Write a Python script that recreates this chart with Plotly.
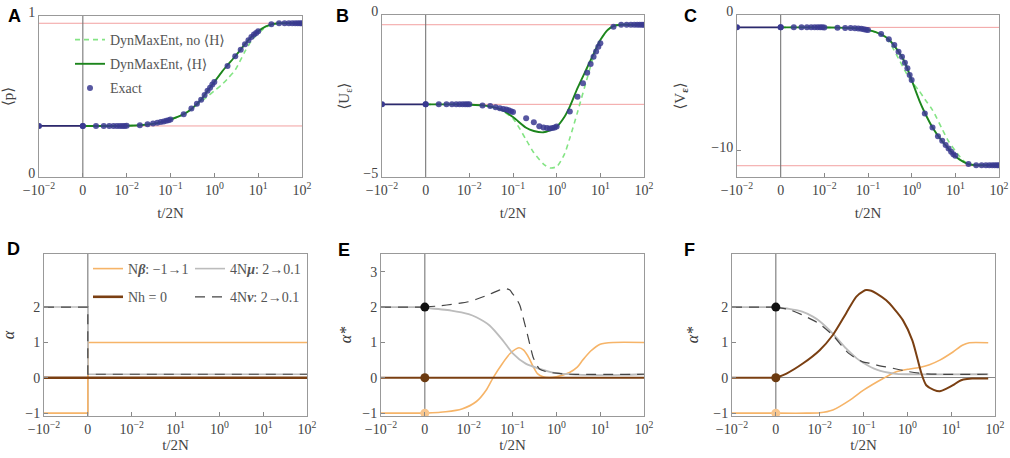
import plotly.graph_objects as go

W, H = 1010, 458

# ---- time axis (log); the "0" tick sits at t = 1e-3, the pre-change segment is left of it
X_NEG = 1e-4      # position labelled "-10^-2"
X_ZERO = 1e-3     # position labelled "0"
X_MAX = 1e2

x_tickvals = [1e-4, 1e-3, 1e-2, 1e-1, 1e0, 1e1, 1e2]
x_ticktext = ["−10<sup>−2</sup>", "0", "10<sup>−2</sup>", "10<sup>−1</sup>",
              "10<sup>0</sup>", "10<sup>1</sup>", "10<sup>2</sup>"]
x_ticktext_D = ["−10<sup>−2</sup>", "0", "10<sup>−2</sup>", "10<sup>1</sup>",
                "10<sup>0</sup>", "10<sup>1</sup>", "10<sup>2</sup>"]

# ---- exact solution (dots)
t_exact = [0.001, 0.002, 0.003, 0.004, 0.005, 0.006, 0.007, 0.008, 0.009,
           0.01, 0.02, 0.03, 0.04, 0.05, 0.06, 0.07, 0.08, 0.09,
           0.1, 0.2, 0.3, 0.4, 0.5, 0.6, 0.7, 0.8, 0.9,
           1, 2, 3, 4, 5, 6, 7, 8, 9,
           10, 20, 30, 40, 50, 60, 70, 80, 90, 100]
p_exact = [0.317, 0.317, 0.317, 0.317, 0.317, 0.317, 0.317, 0.317, 0.317,
           0.318, 0.322, 0.327, 0.332, 0.337, 0.341, 0.345, 0.349, 0.353,
           0.357, 0.39, 0.425, 0.455, 0.48, 0.51, 0.535, 0.555, 0.575,
           0.59, 0.69, 0.75, 0.79, 0.825, 0.85, 0.87, 0.885, 0.895,
           0.905, 0.948, 0.955, 0.955, 0.955, 0.955, 0.955, 0.955, 0.955, 0.955]
U_exact = [-2.757, -2.757, -2.757, -2.757, -2.757, -2.757, -2.757, -2.757, -2.757,
           -2.757, -2.79, -2.81, -2.85, -2.88, -2.90, -2.92, -2.94, -2.97,
           -2.99, -3.19, -3.31, -3.43, -3.47, -3.49, -3.50, -3.49, -3.47,
           -3.44, -2.98, -2.52, -2.11, -1.78, -1.51, -1.29, -1.13, -0.98,
           -0.87, -0.36, -0.30, -0.30, -0.30, -0.30, -0.30, -0.30, -0.30, -0.30]
V_exact = [-0.91, -0.91, -0.91, -0.91, -0.91, -0.91, -0.91, -0.91, -0.91,
           -0.92, -0.93, -0.95, -0.96, -0.98, -1.0, -1.02, -1.05, -1.08,
           -1.1, -1.40, -1.79, -2.21, -2.70, -3.07, -3.51, -3.93, -4.42,
           -4.79, -7.25, -8.28, -8.92, -9.26, -9.58, -9.83, -10.07, -10.25,
           -10.37, -10.98, -11.06, -11.06, -11.06, -11.06, -11.06, -11.06, -11.06, -11.06]

# ---- DynMaxEnt curves
t_curve = [0.001, 0.002, 0.005, 0.01, 0.02, 0.05, 0.1, 0.2, 0.3, 0.5, 0.7, 1,
           1.5, 2, 3, 5, 7, 10, 15, 20, 30, 50, 100]
p_H = [0.317, 0.317, 0.317, 0.318, 0.321, 0.335, 0.357, 0.39, 0.423, 0.48, 0.535, 0.59,
       0.655, 0.695, 0.75, 0.825, 0.87, 0.905, 0.935, 0.948, 0.955, 0.955, 0.955]
p_noH = [0.317, 0.317, 0.317, 0.318, 0.321, 0.335, 0.357, 0.39, 0.42, 0.47, 0.5, 0.535,
         0.575, 0.61, 0.665, 0.78, 0.845, 0.893, 0.93, 0.946, 0.955, 0.955, 0.955]
U_H = [-2.757, -2.757, -2.76, -2.77, -2.79, -2.9, -3.15, -3.48, -3.58, -3.62, -3.56, -3.45,
       -3.15, -2.83, -2.26, -1.62, -1.2, -0.77, -0.45, -0.34, -0.30, -0.30, -0.30]
U_noH = [-2.757, -2.757, -2.76, -2.77, -2.79, -2.92, -3.2, -3.85, -4.25, -4.6, -4.72, -4.68,
         -4.3, -3.8, -3.0, -1.95, -1.28, -0.8, -0.45, -0.33, -0.30, -0.30, -0.30]
V_H = [-0.91, -0.91, -0.91, -0.92, -0.93, -0.98, -1.1, -1.42, -1.8, -2.7, -3.5, -4.8,
       -6.3, -7.2, -8.28, -9.3, -9.85, -10.4, -10.8, -10.98, -11.06, -11.06, -11.06]
V_noH = [-0.91, -0.91, -0.91, -0.92, -0.93, -0.98, -1.1, -1.45, -1.95, -3.2, -4.1, -4.9,
         -5.6, -6.2, -7.0, -8.4, -9.3, -10.0, -10.7, -10.98, -11.06, -11.06, -11.06]

# initial / final equilibrium reference values
p_ref = [0.317, 0.955]
U_ref = [-2.757, -0.30]
V_ref = [-0.91, -11.1]

# ---- panel D: parameter schedule
beta_before, beta_after = -1, 1
h_value = 0
mu_before, mu_after = 2, 0.1
nu_before, nu_after = 2, 0.1

# ---- panel E: conjugate variables (h = 0)
tE_beta = [0.001, 0.003, 0.007, 0.015, 0.025, 0.036, 0.06, 0.087, 0.14, 0.18, 0.24, 0.3,
           0.37, 0.5, 0.7, 1, 2, 3, 4, 6, 10, 20, 100]
E_beta = [-1.0, -0.96, -0.88, -0.67, -0.35, 0.0, 0.42, 0.68, 0.85, 0.78, 0.55, 0.3,
          0.12, 0.03, 0.01, 0.03, 0.15, 0.3, 0.5, 0.75, 0.95, 1.0, 1.0]
tE_h = [0.001, 100]
E_h = [0.0, 0.0]
tE_mu = [0.001, 0.004, 0.01, 0.015, 0.03, 0.06, 0.1, 0.2, 0.4, 1, 3, 10, 30, 100]
E_mu = [1.98, 1.9, 1.8, 1.71, 1.48, 1.06, 0.7, 0.4, 0.26, 0.13, 0.09, 0.075, 0.08, 0.1]
tE_nu = [0.001, 0.002, 0.005, 0.01, 0.015, 0.03, 0.05, 0.065, 0.087, 0.1, 0.12, 0.147,
         0.175, 0.208, 0.25, 0.294, 0.35, 0.42, 0.6, 1, 2, 100]
E_nu = [2.0, 2.03, 2.09, 2.15, 2.22, 2.36, 2.48, 2.53, 2.48, 2.38, 2.25, 2.05,
        1.7, 1.34, 0.93, 0.59, 0.38, 0.24, 0.17, 0.13, 0.1, 0.1]

# ---- panel F: conjugate variables (h free)
tF_beta = [0.001, 0.005, 0.01, 0.02, 0.049, 0.1, 0.28, 0.56, 1.13, 2, 3.2, 5.5, 11, 18, 26, 70]
F_beta = [-1.0, -1.0, -0.99, -0.91, -0.63, -0.35, -0.02, 0.17, 0.25, 0.3, 0.37, 0.5,
          0.73, 0.92, 0.99, 0.99]
tF_h = [0.001, 0.00175, 0.0042, 0.01, 0.02, 0.04, 0.068, 0.1, 0.115, 0.15, 0.2, 0.33, 0.5,
        0.79, 1.3, 2.1, 2.7, 4, 5.5, 8, 11, 15, 19, 30, 70]
F_h = [0.0, 0.12, 0.41, 0.78, 1.21, 1.82, 2.29, 2.45, 2.48, 2.46, 2.38, 2.19, 1.95,
       1.63, 1.06, 0.12, -0.21, -0.34, -0.38, -0.3, -0.21, -0.1, -0.05, -0.02, -0.02]
tF_mu = [0.001, 0.002, 0.004, 0.007, 0.01, 0.02, 0.04, 0.07, 0.1, 0.2, 0.5, 1, 70]
F_mu = [1.98, 1.95, 1.87, 1.73, 1.6, 1.25, 0.83, 0.55, 0.42, 0.23, 0.12, 0.1, 0.1]
tF_nu = [0.001, 0.002, 0.004, 0.007, 0.01, 0.02, 0.046, 0.096, 0.14, 0.2, 0.47, 1, 2.3, 5, 70]
F_nu = [2.0, 1.93, 1.78, 1.63, 1.52, 1.2, 0.69, 0.45, 0.41, 0.36, 0.27, 0.18, 0.12, 0.1, 0.1]

# ---- styles
C_NOH = "#84e484"
C_H = "#1c851c"
C_EXACT = "#3a3a90"
C_PRE = "#2a2a6e"
C_REF = "#f2a0a0"
C_BETA = "#f6b468"
C_HF = "#7a3f12"
C_MU = "#bcbcbc"
C_NU = "#444444"
SERIF = "Liberation Serif, DejaVu Serif, serif"
TXT = "#444444"

fig = go.Figure()


def ax(i, kind):
    return kind if i == 1 else f"{kind}{i}"


def curve(i, x, y, color, width=1.6, dash="solid", name=None, legend=None, show=False,
          group=None, shape="spline"):
    line = dict(color=color, width=width, dash=dash, shape=shape)
    if shape == "spline":
        line["smoothing"] = 0.7
    kw = dict(x=x, y=y, mode="lines", showlegend=show, line=line,
              xaxis=ax(i, "x"), yaxis=ax(i, "y"), hoverinfo="skip")
    if name is not None:
        kw["name"] = name
    if legend is not None:
        kw["legend"] = legend
    if group is not None:
        kw["legendgroup"] = group
    fig.add_trace(go.Scatter(**kw))


# ---- panels A-C
abc = [(1, p_exact, p_H, p_noH, p_ref), (2, U_exact, U_H, U_noH, U_ref),
       (3, V_exact, V_H, V_noH, V_ref)]
for i, ex, yh, ynoh, ref in abc:
    first = (i == 1)
    curve(i, t_curve, ynoh, C_NOH, width=1.6, dash="5px,4px", name="DynMaxEnt, no ⟨H⟩",
          show=first, legend="legend", group="g1")
    curve(i, t_curve, yh, C_H, width=1.9, name="DynMaxEnt, ⟨H⟩",
          show=first, legend="legend", group="g2")
    fig.add_trace(go.Scatter(
        x=[X_NEG, X_ZERO], y=[ex[0], ex[0]], mode="lines+markers", showlegend=False,
        line=dict(color=C_PRE, width=1.8), marker=dict(color=C_EXACT, size=6),
        xaxis=ax(i, "x"), yaxis=ax(i, "y"), hoverinfo="skip"))
    fig.add_trace(go.Scatter(
        x=t_exact, y=ex, mode="markers", name="Exact", showlegend=first,
        legend="legend", legendgroup="g3",
        marker=dict(color=C_EXACT, size=6, opacity=0.85),
        xaxis=ax(i, "x"), yaxis=ax(i, "y"), hoverinfo="skip"))
    for r in ref:
        fig.add_shape(type="line", xref=f"{ax(i, 'x')} domain", yref=ax(i, "y"),
                      x0=0, x1=1, y0=r, y1=r, layer="below",
                      line=dict(color=C_REF, width=1))

# ---- panel D
xs_step = [X_NEG, X_ZERO, X_ZERO, X_MAX]
fig.add_trace(go.Scatter(x=xs_step, y=[beta_before, beta_before, beta_after, beta_after],
                         mode="lines", name="N<b><i>β</i></b>: −1→1", legend="legend2",
                         legendgroup="d1", line=dict(color=C_BETA, width=1.6),
                         xaxis="x4", yaxis="y4", hoverinfo="skip"))
fig.add_trace(go.Scatter(x=[X_NEG, X_MAX], y=[h_value, h_value], mode="lines",
                         name="Nh = 0", legend="legend2", legendgroup="d2",
                         line=dict(color=C_HF, width=2.6), xaxis="x4", yaxis="y4",
                         hoverinfo="skip"))
fig.add_trace(go.Scatter(x=xs_step, y=[mu_before, mu_before, mu_after, mu_after],
                         mode="lines", name="4N<b><i>μ</i></b>: 2→0.1", legend="legend3",
                         legendgroup="d3", line=dict(color=C_MU, width=1.6),
                         xaxis="x4", yaxis="y4", hoverinfo="skip"))
fig.add_trace(go.Scatter(x=xs_step, y=[nu_before, nu_before, nu_after, nu_after],
                         mode="lines", name="4N<b><i>ν</i></b>: 2→0.1", legend="legend3",
                         legendgroup="d4", line=dict(color=C_NU, width=1.2, dash="10px,7px"),
                         xaxis="x4", yaxis="y4", hoverinfo="skip"))

# ---- panels E, F
for i, (tb, yb), (th, yhh), (tm, ym), (tn, yn) in [
        (5, (tE_beta, E_beta), (tE_h, E_h), (tE_mu, E_mu), (tE_nu, E_nu)),
        (6, (tF_beta, F_beta), (tF_h, F_h), (tF_mu, F_mu), (tF_nu, F_nu))]:
    for pre, col, wd, ds in [(beta_before, C_BETA, 1.6, "solid"),
                             (mu_before, C_MU, 1.8, "solid"),
                             (nu_before, C_NU, 1.2, "10px,7px"),
                             (h_value, C_HF, 2.0, "solid")]:
        curve(i, [X_NEG, X_ZERO], [pre, pre], col, width=wd, dash=ds, shape="linear")
    curve(i, tb, yb, C_BETA, width=1.6)
    curve(i, tm, ym, C_MU, width=1.8)
    curve(i, tn, yn, C_NU, width=1.2, dash="10px,7px")
    curve(i, th, yhh, C_HF, width=2.0)
    fig.add_trace(go.Scatter(
        x=[X_ZERO, X_ZERO, X_ZERO], y=[nu_before, h_value, beta_before], mode="markers",
        showlegend=False, marker=dict(color=["#111111", "#6b3a10", "#f8c68e"], size=9),
        xaxis=ax(i, "x"), yaxis=ax(i, "y"), hoverinfo="skip"))

# ---- axes
panels = [("A", 1, (39, 302), (16, 177)), ("B", 2, (382, 644), (15, 177)),
          ("C", 3, (737, 999), (15, 177)), ("D", 4, (44, 307), (254, 416)),
          ("E", 5, (381, 644), (254, 416)), ("F", 6, (732, 995), (254, 416))]
letter_pos = {"A": (14, 16), "B": (342, 16), "C": (690, 16),
              "D": (13, 249), "E": (344, 250), "F": (689, 250)}
y_cfg = {
    1: dict(range=[0, 1], tickvals=[0, 1], ticktext=["0", "1"], title="⟨p⟩", so=None),
    2: dict(range=[-5, 0], tickvals=[-5, 0], ticktext=["−5", "0"], title="⟨U<sub>ε</sub>⟩",
            so=10),
    3: dict(range=[-11.93, 0], tickvals=[-10, 0], ticktext=["−10", "0"],
            title="⟨V<sub><b>ε</b></sub>⟩", so=22),
    4: dict(range=[-1.08, 3.5], tickvals=[-1, 0, 1, 2], ticktext=["−1", "0", "1", "2"],
            title="α", so=None),
    5: dict(range=[-1.08, 3.5], tickvals=[-1, 0, 1, 2, 3], ticktext=["−1", "0", "1", "2", "3"],
            title="α*", so=6),
    6: dict(range=[-1.08, 3.5], tickvals=[-1, 0, 1, 2], ticktext=["−1", "0", "1", "2"],
            title="α*", so=10),
}
tickfont = dict(family=SERIF, size=14, color=TXT)
titlefont = dict(family=SERIF, size=15, color=TXT)
titlefont_it = dict(family=SERIF, size=16, color="#333", style="italic")
layout = {}
for letter, i, (x0, x1), (top, bot) in panels:
    xk = "xaxis" if i == 1 else f"xaxis{i}"
    yk = "yaxis" if i == 1 else f"yaxis{i}"
    layout[xk] = dict(
        domain=[x0 / W, x1 / W], anchor=ax(i, "y"), type="log", range=[-4, 2],
        tickvals=x_tickvals, ticktext=x_ticktext_D if i == 4 else x_ticktext,
        ticks="inside", ticklen=4, tickcolor="#888", showline=True, linecolor="#999",
        linewidth=1, mirror=True, showgrid=False, zeroline=False, tickfont=tickfont,
        automargin=False,
        title=dict(text="t/2N", font=titlefont, standoff=10 if i <= 3 else 2))
    c = y_cfg[i]
    ytitle = dict(text=c["title"], font=titlefont if i <= 3 else titlefont_it)
    if c["so"] is not None:
        ytitle["standoff"] = c["so"]
    layout[yk] = dict(
        domain=[1 - bot / H, 1 - top / H], anchor=ax(i, "x"), range=c["range"],
        tickvals=c["tickvals"], ticktext=c["ticktext"], ticks="inside", ticklen=4,
        tickcolor="#888", showline=True, linecolor="#999", linewidth=1, mirror=True,
        showgrid=False, zeroline=(i >= 4), zerolinecolor="#888", zerolinewidth=1,
        ticklabelshift=-4 if i <= 3 else 0, automargin=False,
        tickfont=tickfont, title=ytitle)
    fig.add_shape(type="line", xref=ax(i, "x"), yref=f"{ax(i, 'y')} domain",
                  x0=X_ZERO, x1=X_ZERO, y0=0, y1=1, layer="below",
                  line=dict(color="#777", width=1.1))
    lx, ly = letter_pos[letter]
    fig.add_annotation(text=f"<b>{letter}</b>", xref="paper", yref="paper",
                       x=lx / W, y=1 - ly / H, xanchor="center", yanchor="middle",
                       showarrow=False, font=dict(family="Liberation Sans, Arial", size=18,
                                                  color="#000"))

legfont = dict(family=SERIF, size=14, color="#555")
fig.update_layout(
    width=W, height=H, margin=dict(l=0, r=0, t=0, b=0, autoexpand=False),
    paper_bgcolor="white", plot_bgcolor="white",
    legend=dict(x=70 / W, y=1 - 24 / H, xanchor="left", yanchor="top", font=legfont,
                bgcolor="rgba(0,0,0,0)", tracegroupgap=3, traceorder="grouped"),
    legend2=dict(x=88 / W, y=1 - 253 / H, xanchor="left", yanchor="top", font=legfont,
                 bgcolor="rgba(0,0,0,0)", tracegroupgap=7, traceorder="grouped"),
    legend3=dict(x=190 / W, y=1 - 253 / H, xanchor="left", yanchor="top", font=legfont,
                 bgcolor="rgba(0,0,0,0)", tracegroupgap=7, traceorder="grouped"),
    **layout)

fig.write_html("out.html")
